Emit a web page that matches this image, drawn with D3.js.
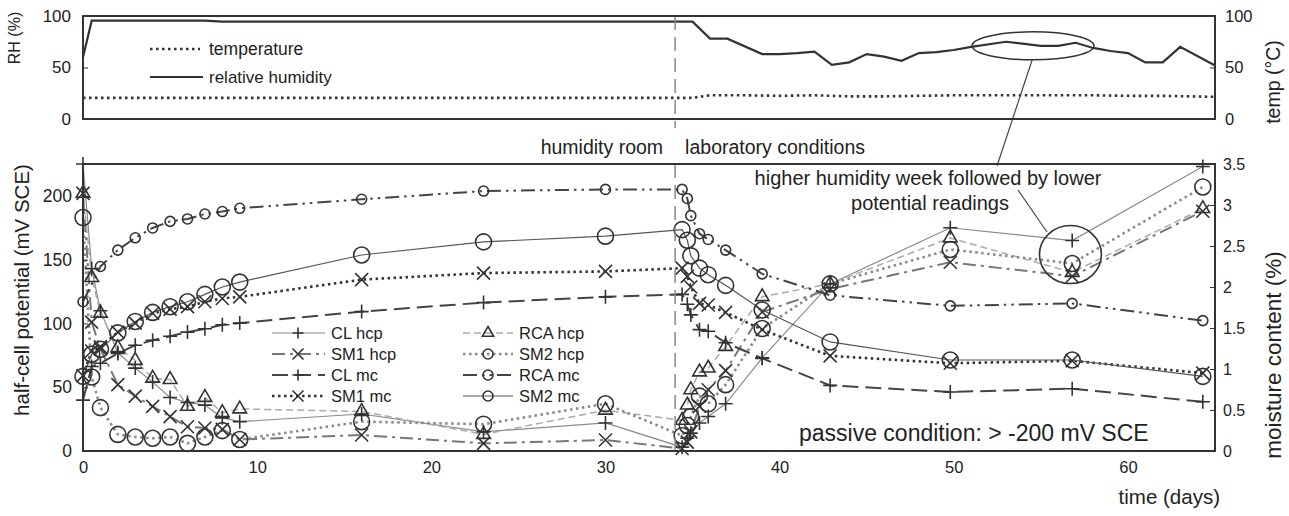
<!DOCTYPE html>
<html lang="en">
<head>
<meta charset="UTF-8">
<title>Half-cell potential and moisture content</title>
<script src="https://d3js.org/d3.v7.min.js"></script>
<style>
  body { margin: 0; background: #fff; }
  svg text { font-family: "Liberation Sans", Arial, sans-serif; fill: #222; }
</style>
</head>
<body>
<svg width="1289" height="516"></svg>
<script>
const width = 1289, height = 516;

// top panel: room climate
const rhDays = [0, 0.5, 7, 8, 35, 36, 37, 39, 40, 41, 42, 43, 44, 45, 46, 47, 48, 49, 50, 51, 53, 55, 56, 57, 58, 59, 60, 61, 62, 63, 65];
const rhValues = [60, 95.5, 95.5, 94.5, 94.5, 78, 78, 63, 63, 64, 65.5, 52.5, 55, 63, 60.5, 56.5, 64, 65, 67, 70, 75, 71, 71, 74, 69, 66, 64, 55, 55, 70, 52];
const tempDays = [0, 34, 35, 36, 38, 40, 42, 44, 46, 48, 50, 52, 54, 56, 58, 60, 62, 65];
const tempValues = [20.5, 20.5, 20.5, 23, 23, 22.5, 23, 22, 22, 22.5, 23, 23, 23, 23, 23, 22.5, 22.5, 21.5];

// bottom panel: readings (humidity room, then laboratory)
const humidDays = [0, 0.5, 1, 2, 3, 4, 5, 6, 7, 8, 9, 16, 23, 30];
const labDays = [34.4, 34.7, 34.9, 35.4, 35.9, 36.9, 39, 42.9, 49.8, 56.8, 64.3];
const days = humidDays.concat(labDays);

// half-cell potential (mV SCE)
const clHcp  = [225, 143, 110, 77, 65, 54, 42, 38, 36, 26, 23, 29, 15, 22,  3, 10, 14, 22, 27, 37, 73, 131, 175, 165, 223];
const sm1Hcp = [202, 101, 80, 52, 43, 35, 27, 19, 18, 17, 9, 12.5, 6, 8.6,  2, 7, 15, 35, 48, 63, 109, 127, 148, 137, 188];
const rcaHcp = [202, 136, 108, 81, 71, 57, 56, 35, 42, 30, 33, 31, 13, 32,  24, 36, 48, 62, 65, 82, 121, 131, 167, 140, 190];
const sm2Hcp = [183, 58, 34, 13, 11, 10, 11, 6, 11, 16, 9, 23, 21, 37,  12, 20, 27, 43, 37, 52, 96, 131, 158, 147, 207];

// moisture content (%)
const clMc  = [0.62, 1.03, 1.07, 1.19, 1.29, 1.35, 1.40, 1.45, 1.49, 1.54, 1.56, 1.70, 1.81, 1.88,  1.91, 1.79, 1.66, 1.48, 1.46, 1.32, 1.13, 0.80, 0.72, 0.76, 0.60];
const sm1Mc = [0.92, 1.22, 1.27, 1.45, 1.56, 1.68, 1.73, 1.76, 1.82, 1.86, 1.88, 2.09, 2.17, 2.19,  2.23, 2.13, 2.00, 1.80, 1.78, 1.69, 1.48, 1.16, 1.07, 1.10, 0.95];
const rcaMc = [1.82, null, 2.25, 2.45, 2.60, 2.72, 2.80, 2.83, 2.89, 2.92, 2.96, 3.07, 3.17, 3.19,  3.19, 3.08, 2.87, 2.65, 2.58, 2.45, 2.16, 1.90, 1.77, 1.80, 1.59];
const sm2Mc = [0.91, 1.18, 1.24, 1.44, 1.58, 1.69, 1.76, 1.82, 1.91, 2.00, 2.06, 2.39, 2.55, 2.62,  2.70, 2.57, 2.38, 2.23, 2.15, 2.02, 1.72, 1.33, 1.11, 1.11, 0.91];

const xTicks = [0, 10, 20, 30, 40, 50, 60];
const pctTicks = [0, 50, 100];
const hcpTicks = [0, 50, 100, 150, 200];
const mcTicks = [0, 0.5, 1, 1.5, 2, 2.5, 3, 3.5];

const svg = d3.select("svg").attr("width", width).attr("height", height);

const left = 83, right = 1215;
const x = d3.scaleLinear().domain([0, 65]).range([left, right]);
const yTop = d3.scaleLinear().domain([0, 100]).range([119, 16]);
const yL = d3.scaleLinear().domain([0, 225]).range([451, 164]);
const yR = d3.scaleLinear().domain([0, 3.5]).range([451, 164]);

const series = [
    { name: "CL hcp",  values: clHcp,  y: yL, stroke: "#8a8a8a", width: 1.2, dash: null,            marker: "plus",   size: 7 },
    { name: "SM1 hcp", values: sm1Hcp, y: yL, stroke: "#777",    width: 2,   dash: "13,5,3,5",      marker: "cross",  size: 6.5 },
    { name: "CL mc",   values: clMc,   y: yR, stroke: "#444",    width: 2,   dash: "16,7",          marker: "plus",   size: 7 },
    { name: "SM1 mc",  values: sm1Mc,  y: yR, stroke: "#333",    width: 2.6, dash: "2.5,3.5",       marker: "cross",  size: 6.5 },
    { name: "RCA hcp", values: rcaHcp, y: yL, stroke: "#aaa",    width: 1.5, dash: "7,4",           marker: "tri",    size: 80 },
    { name: "SM2 hcp", values: sm2Hcp, y: yL, stroke: "#8a8a8a", width: 2.6, dash: "2.5,3.5",       marker: "circle", size: 8 },
    { name: "RCA mc",  values: rcaMc,  y: yR, stroke: "#444",    width: 2,   dash: "14,5,2.5,5,2.5,5", marker: "circle", size: 5 },
    { name: "SM2 mc",  values: sm2Mc,  y: yR, stroke: "#555",    width: 1.2, dash: null,            marker: "circle", size: 8 }
];

function marker(g, type, s) {
    if (type === "circle") {
        g.append("circle").attr("r", s);
    } else if (type === "plus") {
        g.append("path").attr("d", `M${-s},0H${s}M0,${-s}V${s}`);
    } else if (type === "cross") {
        g.append("path").attr("d", `M${-s},${-s}L${s},${s}M${-s},${s}L${s},${-s}`);
    } else {
        g.append("path").attr("d", d3.symbol(d3.symbolTriangle, s)());
    }
    g.attr("fill", "none").attr("stroke", "#333").attr("stroke-width", 1.6);
}

// ---- top panel ----
const topLine = d3.line().x(d => x(d[0])).y(d => yTop(d[1]));
svg.append("path")
    .datum(tempDays.map((d, i) => [d, tempValues[i]]))
    .attr("d", topLine).attr("fill", "none")
    .attr("stroke", "#333").attr("stroke-width", 2.6).attr("stroke-dasharray", "2.5,3.5");
svg.append("path")
    .datum(rhDays.map((d, i) => [d, rhValues[i]]))
    .attr("d", topLine).attr("fill", "none")
    .attr("stroke", "#333").attr("stroke-width", 2.2);

// top legend
svg.append("line").attr("x1", 150).attr("x2", 200).attr("y1", 49).attr("y2", 49)
    .attr("stroke", "#333").attr("stroke-width", 2.6).attr("stroke-dasharray", "2.5,3.5");
svg.append("text").attr("x", 209).attr("y", 55).attr("font-size", 17.5).text("temperature");
svg.append("line").attr("x1", 150).attr("x2", 203).attr("y1", 77).attr("y2", 77)
    .attr("stroke", "#333").attr("stroke-width", 2.2);
svg.append("text").attr("x", 209).attr("y", 83).attr("font-size", 17).text("relative humidity");

// ---- bottom panel ----
series.forEach(s => {
    const pts = days.map((d, i) => [d, s.values[i]]).filter(p => p[1] != null);
    const line = d3.line().x(d => x(d[0])).y(d => s.y(d[1]));
    svg.append("path").datum(pts).attr("d", line).attr("fill", "none")
        .attr("stroke", s.stroke).attr("stroke-width", s.width)
        .attr("stroke-dasharray", s.dash);
});
series.forEach(s => {
    days.forEach((d, i) => {
        if (s.values[i] == null) return;
        const g = svg.append("g").attr("transform", `translate(${x(d)},${s.y(s.values[i])})`);
        marker(g, s.marker, s.size);
    });
});

// change of conditions
svg.append("line").attr("x1", x(34)).attr("x2", x(34)).attr("y1", 16).attr("y2", 128)
    .attr("stroke", "#888").attr("stroke-width", 1.5).attr("stroke-dasharray", "14,7");
svg.append("line").attr("x1", x(34)).attr("x2", x(34)).attr("y1", 164).attr("y2", 451)
    .attr("stroke", "#888").attr("stroke-width", 1.5).attr("stroke-dasharray", "14,7");
svg.append("text").attr("x", x(34) - 12).attr("y", 154).attr("text-anchor", "end")
    .attr("font-size", 19.5).text("humidity room");
svg.append("text").attr("x", x(34) + 10).attr("y", 154)
    .attr("font-size", 19.5).text("laboratory conditions");

// legend
const legendRows = [333, 354, 375, 396];
series.forEach((s, i) => {
    const col = i < 4 ? { x1: 272, x2: 325, m: 298, t: 331 } : { x1: 463, x2: 513, m: 488, t: 519 };
    const cy = legendRows[i % 4];
    svg.append("line").attr("x1", col.x1).attr("x2", col.x2).attr("y1", cy).attr("y2", cy)
        .attr("stroke", s.stroke).attr("stroke-width", s.width).attr("stroke-dasharray", s.dash);
    const g = svg.append("g").attr("transform", `translate(${col.m},${cy})`);
    marker(g, s.marker, s.marker === "tri" ? 55 : (s.marker === "circle" ? 5 : 5.5));
    svg.append("text").attr("x", col.t).attr("y", cy + 6).attr("font-size", 16.5).text(s.name);
});

// annotations
svg.append("ellipse").attr("cx", x(54.55)).attr("cy", yTop(71)).attr("rx", 61).attr("ry", 14)
    .attr("fill", "none").attr("stroke", "#333").attr("stroke-width", 1.5);
svg.append("line").attr("x1", x(54.5)).attr("y1", 60).attr("x2", 997).attr("y2", 166)
    .attr("stroke", "#444").attr("stroke-width", 1.2);
svg.append("ellipse").attr("cx", x(56.7)).attr("cy", yL(154)).attr("rx", 31).attr("ry", 29)
    .attr("fill", "none").attr("stroke", "#333").attr("stroke-width", 1.6);
svg.append("line").attr("x1", 1018).attr("y1", 190).attr("x2", 1047).attr("y2", 232)
    .attr("stroke", "#444").attr("stroke-width", 1.2);
svg.append("text").attr("x", 928).attr("y", 185).attr("text-anchor", "middle")
    .attr("font-size", 20).text("higher humidity week followed by lower");
svg.append("text").attr("x", 930).attr("y", 210).attr("text-anchor", "middle")
    .attr("font-size", 20).text("potential readings");
svg.append("text").attr("x", 799).attr("y", 441)
    .attr("font-size", 23).text("passive condition: > -200 mV SCE");

// frames
svg.append("rect").attr("x", left).attr("y", 16).attr("width", right - left).attr("height", 103)
    .attr("fill", "none").attr("stroke", "#333").attr("stroke-width", 2);
svg.append("rect").attr("x", left).attr("y", 164).attr("width", right - left).attr("height", 287)
    .attr("fill", "none").attr("stroke", "#333").attr("stroke-width", 2);

// axes
function styleAxis(g, size) {
    g.attr("font-family", "Liberation Sans, Arial, sans-serif").attr("font-size", size).attr("color", "#333");
    g.select(".domain").remove();
}
svg.append("g").attr("transform", `translate(${left},0)`)
    .call(d3.axisLeft(yTop).tickValues(pctTicks).tickSizeInner(-5).tickSizeOuter(0).tickPadding(12))
    .call(g => styleAxis(g, 17));
svg.append("g").attr("transform", `translate(${right},0)`)
    .call(d3.axisRight(yTop).tickValues(pctTicks).tickSizeInner(-5).tickSizeOuter(0).tickPadding(10))
    .call(g => styleAxis(g, 16.5));
svg.append("g").attr("transform", `translate(${left},0)`)
    .call(d3.axisLeft(yL).tickValues(hcpTicks).tickSizeInner(-5).tickSizeOuter(0).tickPadding(11))
    .call(g => styleAxis(g, 17.5));
svg.append("g").attr("transform", `translate(${right},0)`)
    .call(d3.axisRight(yR).tickValues(mcTicks).tickFormat(d => d).tickSizeInner(-5).tickSizeOuter(0).tickPadding(8))
    .call(g => styleAxis(g, 16));
svg.append("g").attr("transform", "translate(0,451)")
    .call(d3.axisBottom(x).tickValues(xTicks).tickSize(0).tickPadding(10))
    .call(g => styleAxis(g, 16.5));

// axis titles
svg.append("text").attr("transform", "translate(20,38) rotate(-90)").attr("text-anchor", "middle")
    .attr("font-size", 16).text("RH (%)");
svg.append("text").attr("transform", "translate(1280,82) rotate(-90)").attr("text-anchor", "middle")
    .attr("font-size", 19.5).text("temp (°C)");
svg.append("text").attr("transform", "translate(29,290) rotate(-90)").attr("text-anchor", "middle")
    .attr("font-size", 20.5).text("half-cell potential (mV SCE)");
svg.append("text").attr("transform", "translate(1281,355) rotate(-90)").attr("text-anchor", "middle")
    .attr("font-size", 22.5).text("moisture content (%)");
svg.append("text").attr("x", 1220).attr("y", 504).attr("text-anchor", "end")
    .attr("font-size", 20.5).text("time (days)");
</script>
</body>
</html>
